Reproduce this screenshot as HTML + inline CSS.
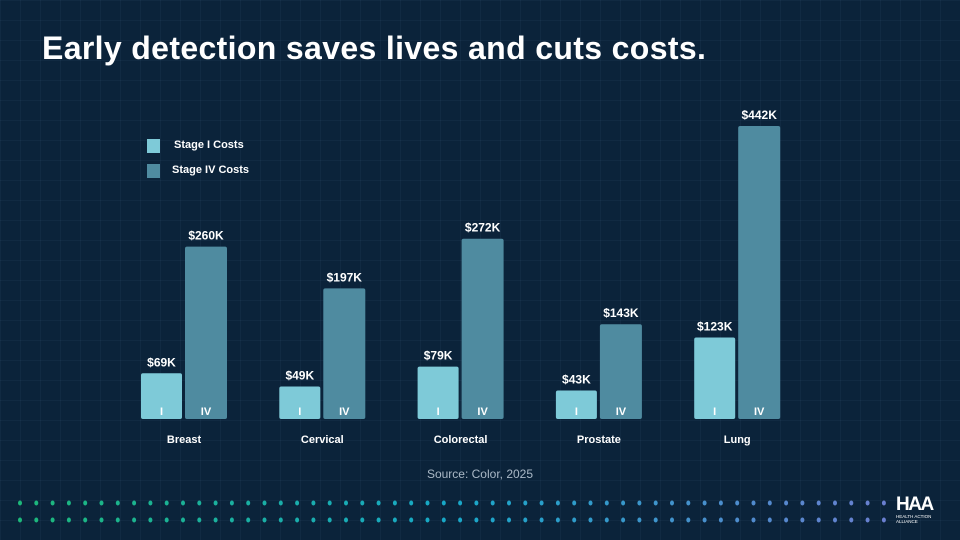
<!DOCTYPE html>
<html><head><meta charset="utf-8"><style>
body{margin:0;width:960px;height:540px;overflow:hidden;background:#0b233a;font-family:"Liberation Sans",sans-serif;}
#root{position:relative;width:960px;height:540px;background-color:#0b233a;
background-image:linear-gradient(rgba(90,130,170,0.08) 1px,transparent 1px),linear-gradient(90deg,rgba(90,130,170,0.08) 1px,transparent 1px);background-size:20px 20px;}
.t{position:absolute;color:#fff;font-weight:bold;}
</style></head><body>
<div id="root">
<div class="t" style="left:42px;top:30px;font-size:32px;letter-spacing:0.35px">Early detection saves lives and cuts costs.</div>
<div>
<div style="position:absolute;left:147px;top:139px;width:13px;height:14px;background:#7ecad8"></div>
<div class="t" style="left:174px;top:139px;font-size:11px">Stage I Costs</div>
<div style="position:absolute;left:147px;top:164px;width:13px;height:14px;background:#4f8ba0"></div>
<div class="t" style="left:172px;top:164px;font-size:11px">Stage IV Costs</div>
</div>
<svg id="chart" width="960" height="540" style="position:absolute;left:0;top:0"></svg>
<div class="t" style="left:0;width:960px;text-align:center;top:467px;font-size:12px;font-weight:normal;color:#aab8c6">Source: Color, 2025</div>
<svg id="dots" width="960" height="540" style="position:absolute;left:0;top:0"></svg>
<div style="position:absolute;left:896px;top:495px;color:#fff">
<div style="font-size:19px;font-weight:bold;line-height:19px;letter-spacing:-1.5px">HAA</div>
<div style="font-size:4.5px;line-height:5px">HEALTH ACTION<br>ALLIANCE</div>
</div>
</div>
<script>
const categories=["Breast","Cervical","Colorectal","Prostate","Lung"];
const stage1=[69,49,79,43,123];
const stage4=[260,197,272,143,442];
const labels1=["$69K","$49K","$79K","$43K","$123K"];
const labels4=["$260K","$197K","$272K","$143K","$442K"];
const NS="http://www.w3.org/2000/svg";
const svg=document.getElementById('chart');
const base=419, k=293/442;
const y=v=>base-v*k;
const xc=i=>184+i*138.3;
function mk(tag,attrs){const e=document.createElementNS(NS,tag);for(const a in attrs)e.setAttribute(a,attrs[a]);svg.appendChild(e);return e;}
function txt(x,yy,s,size,col,w){const t=mk('text',{x:x,y:yy,'text-anchor':'middle','font-size':size,fill:col,'font-weight':w||'bold','font-family':'Liberation Sans, sans-serif'});t.textContent=s;return t;}
categories.forEach((c,i)=>{
  const cx=xc(i);
  const b1=mk('rect',{x:cx-43,y:y(stage1[i]),width:41,height:stage1[i]*k,fill:'#7ecad8',rx:2});
  
  
  const b4=mk('rect',{x:cx+1,y:y(stage4[i]),width:42,height:stage4[i]*k,fill:'#4f8ba0',rx:2});
  
  
  const l1=txt(cx-22.5,y(stage1[i])-7,labels1[i],12,'#fff');
  
  
  const l4=txt(cx+22,y(stage4[i])-7,labels4[i],12,'#fff');
  
  
  const i1=txt(cx-22.5,base-4,'I',11,'#fff');
  
  
  const i4=txt(cx+22,base-4,'IV',11,'#fff');
  
  
  const cl=txt(cx,443,c,11,'#fff');
  
  
});
const dsvg=document.getElementById('dots');
function lerp(a,b,t){return a.map((v,j)=>Math.round(v+(b[j]-v)*t));}
const c0=[29,184,122],c1=[24,168,200],c2=[106,127,208];
for(let r=0;r<2;r++){for(let n=0;n<54;n++){
  const t=n/53;const col=t<0.5?lerp(c0,c1,t*2):lerp(c1,c2,(t-0.5)*2);
  const e=document.createElementNS(NS,'ellipse');
  e.setAttribute('cx',20+n*16.3);e.setAttribute('cy',r?520:503);e.setAttribute('rx',2);e.setAttribute('ry',2.5);
  e.setAttribute('fill','rgb('+col.join(',')+')');
  dsvg.appendChild(e);
}}
</script>
</body></html>
